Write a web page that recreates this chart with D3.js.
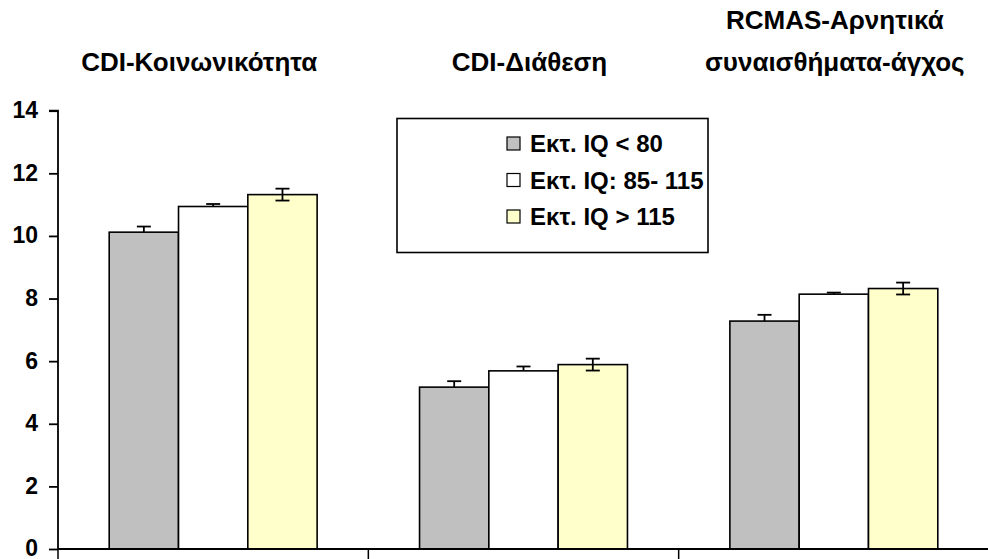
<!DOCTYPE html>
<html>
<head>
<meta charset="utf-8">
<script src="https://cdn.jsdelivr.net/npm/d3@7"></script>
<style>
  html, body { margin: 0; padding: 0; background: #fff; }
  svg { display: block; }
  text { font-family: "Liberation Sans", Arial, sans-serif; font-weight: bold; fill: #000; }
</style>
</head>
<body>
<svg id="chart" width="988" height="559"></svg>
<script>
// ---- data ----
const categories = ["CDI-Κοινωνικότητα", "CDI-Διάθεση", "RCMAS-Αρνητικά συναισθήματα-άγχος"];
const titleLines = [["CDI-Κοινωνικότητα"], ["CDI-Διάθεση"], ["RCMAS-Αρνητικά", "συναισθήματα-άγχος"]];
const seriesNames = ["Εκτ. IQ < 80", "Εκτ. IQ: 85- 115", "Εκτ. IQ > 115"];
const seriesColors = ["#C0C0C0", "#FFFFFF", "#FFFFCC"];
const valuesLow  = [10.12, 5.17, 7.28];
const valuesMid  = [10.94, 5.69, 8.14];
const valuesHigh = [11.32, 5.89, 8.32];
const errLow  = [0.18, 0.19, 0.20];
const errMid  = [0.08, 0.14, 0.05];
const errHigh = [0.19, 0.19, 0.19];
const errBoth = [false, false, true]; // whether the lower whisker is shown
const yTicks = [0, 2, 4, 6, 8, 10, 12, 14];

const seriesValues = [valuesLow, valuesMid, valuesHigh];
const seriesErrors = [errLow, errMid, errHigh];

// ---- layout ----
const svg = d3.select("#chart");
const mLeft = 58, mRight = 989, mTop = 110.7, mBottom = 549;

const x0 = d3.scaleBand().domain(categories).range([mLeft, mRight]).padding(0);
const gap = x0.bandwidth() * 0.33;
const x1 = d3.scaleBand().domain(seriesNames).range([gap / 2, x0.bandwidth() - gap / 2]).padding(0);
const y = d3.scaleLinear().domain([0, 14]).range([mBottom, mTop]);

// bars
const data = [];
categories.forEach((c, ci) => {
  seriesNames.forEach((s, si) => {
    data.push({ c, s, si, v: seriesValues[si][ci], e: seriesErrors[si][ci], both: errBoth[si] });
  });
});

svg.append("g").selectAll("rect").data(data).join("rect")
  .attr("x", d => x0(d.c) + x1(d.s))
  .attr("y", d => y(d.v))
  .attr("width", x1.bandwidth())
  .attr("height", d => y(0) - y(d.v))
  .attr("fill", d => seriesColors[d.si])
  .attr("stroke", "#000")
  .attr("stroke-width", 1.6);

// error bars
const eg = svg.append("g").attr("stroke", "#000").attr("stroke-width", 1.8);
data.forEach(d => {
  const cx = x0(d.c) + x1(d.s) + x1.bandwidth() / 2;
  const yT = y(d.v + d.e);
  const yB = d.both ? y(d.v - d.e) : y(d.v);
  eg.append("line").attr("x1", cx).attr("x2", cx).attr("y1", yT).attr("y2", yB);
  eg.append("line").attr("x1", cx - 7).attr("x2", cx + 7).attr("y1", yT).attr("y2", yT);
  if (d.both) eg.append("line").attr("x1", cx - 7).attr("x2", cx + 7).attr("y1", yB).attr("y2", yB);
});

// y axis
const yAxis = d3.axisLeft(y).tickValues(yTicks).tickSize(9).tickPadding(11).tickFormat(d3.format("d"));
const yg = svg.append("g").attr("transform", `translate(${mLeft},0)`).call(yAxis);
yg.select(".domain").attr("stroke", "#000").attr("stroke-width", 1.8).attr("d", `M-9,${mTop}H0V${mBottom}`);
yg.selectAll(".tick line").attr("stroke", "#000").attr("stroke-width", 1.8);
yg.selectAll(".tick text").attr("dy", "0.3em").style("font-size", "23px").style("font-family", "Liberation Sans, Arial, sans-serif").style("font-weight", "bold").attr("fill", "#000");

// x axis: line + boundary ticks
const xg = svg.append("g");
xg.append("line").attr("x1", mLeft).attr("x2", mRight).attr("y1", mBottom).attr("y2", mBottom)
  .attr("stroke", "#000").attr("stroke-width", 1.8);
const bounds = categories.map(c => x0(c)).concat([x0(categories[categories.length - 1]) + x0.bandwidth()]);
xg.selectAll("line.bt").data(bounds).join("line").attr("class", "bt")
  .attr("x1", d => d).attr("x2", d => d).attr("y1", mBottom).attr("y2", mBottom + 10)
  .attr("stroke", "#000").attr("stroke-width", 1.5);

// category titles at top
const titleOffsets = [-14, 6, 1];
const tg = svg.append("g");
titleLines.forEach((lines, ci) => {
  const cx = x0(categories[ci]) + x0.bandwidth() / 2 + titleOffsets[ci];
  const n = lines.length;
  lines.forEach((ln, li) => {
    tg.append("text")
      .attr("x", cx)
      .attr("y", 71 - (n - 1 - li) * 42)
      .attr("text-anchor", "middle")
      .style("font-size", "26px")
      .text(ln);
  });
});

// legend
const lg = svg.append("g");
lg.append("rect").attr("x", 397).attr("y", 118.5).attr("width", 311).attr("height", 134)
  .attr("fill", "#fff").attr("stroke", "#000").attr("stroke-width", 1.6);
seriesNames.forEach((s, i) => {
  const cy = 143.5 + i * 36.5;
  lg.append("rect").attr("x", 507).attr("y", cy - 6.5).attr("width", 13).attr("height", 13)
    .attr("fill", seriesColors[i]).attr("stroke", "#000").attr("stroke-width", 1.2);
  lg.append("text").attr("x", 530).attr("y", cy + 8.5).style("font-size", "24px").text(s);
});
</script>
</body>
</html>
